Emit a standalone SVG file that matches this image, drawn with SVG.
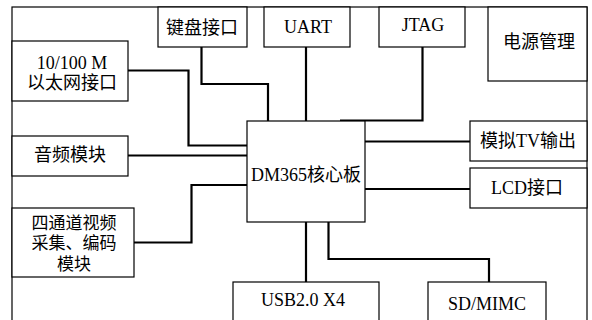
<svg xmlns="http://www.w3.org/2000/svg" width="592" height="320" viewBox="0 0 592 320">
<style>
.b{fill:#fff;stroke:#000;stroke-width:1.2}
.c{fill:none;stroke:#000;stroke-width:2.2}
text{font-family:"Liberation Serif","Noto Sans CJK SC",serif;font-size:18px;fill:#000;text-anchor:middle;dominant-baseline:central}
.s{font-size:17px}
</style>
<rect width="592" height="320" fill="#fff"/>
<rect id="frame" class="b" x="12" y="7" width="575" height="330"/>
<g id="connectors">
<polyline class="c" points="201.5,47 201.5,84 268,84 268,121"/>
<polyline class="c" points="128,70.5 188.5,70.5 188.5,145.5 247,145.5"/>
<polyline class="c" points="128,155.5 247,155.5"/>
<polyline class="c" points="306,47 306,121"/>
<polyline class="c" points="422.5,47 422.5,120.5 340,120.5"/>
<polyline class="c" points="365,141.5 470,141.5"/>
<polyline class="c" points="365,189 470,189"/>
<polyline class="c" points="134,242.5 191.5,242.5 191.5,185 247,185"/>
<polyline class="c" points="306,222 306,282"/>
<polyline class="c" points="328.5,222 328.5,259 489,259 489,282"/>
</g>
<g id="keyboard"><rect class="b" x="158" y="7" width="89" height="40"/><text x="202" y="28">键盘接口</text></g>
<g id="uart"><rect class="b" x="264" y="7" width="86" height="40"/><text x="308" y="27">UART</text></g>
<g id="jtag"><rect class="b" x="379" y="7" width="86" height="40"/><text x="423" y="25">JTAG</text></g>
<g id="power"><rect class="b" x="488" y="7" width="99" height="74"/><text x="539" y="42">电源管理</text></g>
<g id="ethernet"><rect class="b" x="12" y="41" width="116" height="60"/><text x="72" y="63">10/100 M</text><text x="72" y="83">以太网接口</text></g>
<g id="audio"><rect class="b" x="12" y="136" width="116" height="40"/><text x="70" y="155">音频模块</text></g>
<g id="video"><rect class="b" x="12" y="208" width="122" height="69"/><text class="s" x="74" y="223">四通道视频</text><text class="s" x="74" y="243">采集、编码</text><text class="s" x="74" y="264">模块</text></g>
<g id="dm365"><rect class="b" x="247" y="121" width="118" height="101"/><text x="306" y="175">DM365核心板</text></g>
<g id="tv"><rect class="b" x="470" y="121" width="117" height="40"/><text x="528" y="141">模拟TV输出</text></g>
<g id="lcd"><rect class="b" x="470" y="168" width="117" height="40"/><text x="527" y="188">LCD接口</text></g>
<g id="usb"><rect class="b" x="233" y="282" width="146" height="50"/><text x="303" y="300">USB2.0 X4</text></g>
<g id="sd"><rect class="b" x="428" y="282" width="118" height="50"/><text x="487" y="304">SD/MIMC</text></g>
</svg>
